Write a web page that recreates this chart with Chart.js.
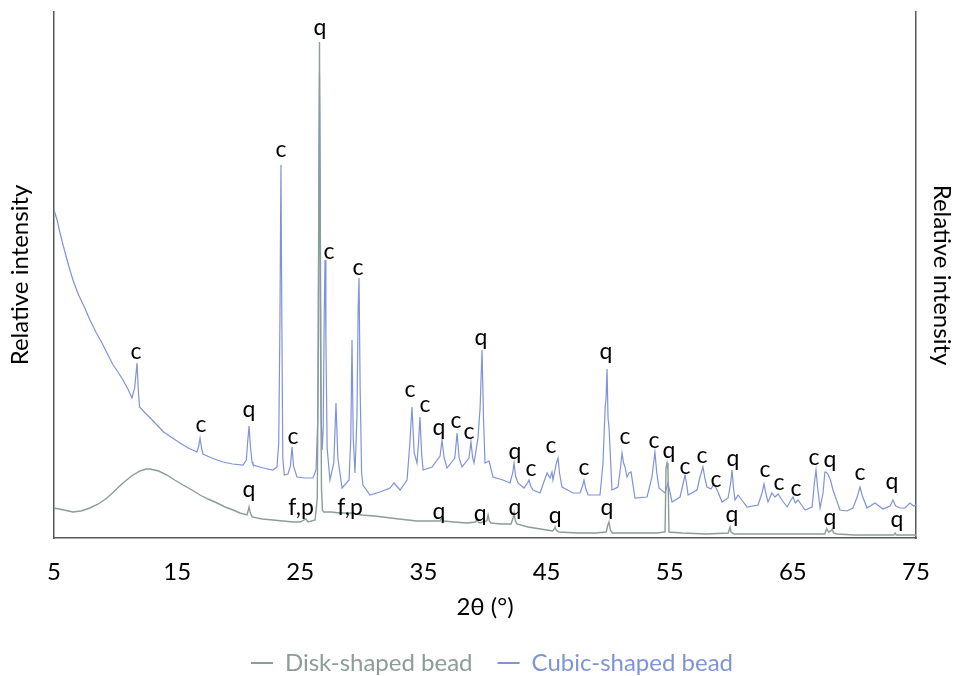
<!DOCTYPE html>
<html>
<head>
<meta charset="utf-8">
<script src="https://cdn.jsdelivr.net/npm/chart.js@4/dist/chart.umd.min.js"></script>
<style>
  html, body { margin: 0; padding: 0; background: #fff; overflow: hidden; }
</style>
</head>
<body>
<canvas id="xrd" width="956" height="685"></canvas>
<script>
// 2θ (°) and relative intensity of the disk-shaped bead pattern
const diskTheta = [5.00,5.80,6.54,7.20,7.92,8.60,9.30,10.00,10.60,11.30,11.98,12.50,12.80,13.50,14.18,14.80,15.48,16.20,16.86,17.50,18.24,18.90,19.54,20.10,20.67,20.78,20.84,20.92,21.08,21.90,22.78,23.60,24.41,25.00,25.46,25.63,26.20,26.38,26.47,26.56,26.64,26.72,26.80,26.90,27.50,28.20,29.04,30.00,31.00,31.72,33.00,34.48,35.50,36.35,36.51,36.67,37.50,38.54,39.25,39.35,39.45,39.60,40.15,40.25,40.35,40.49,41.30,42.11,42.28,42.36,42.45,42.60,43.50,44.50,45.50,45.62,45.69,45.77,46.00,47.50,49.00,49.85,49.95,50.07,50.18,50.35,52.00,54.00,54.62,54.70,54.78,54.86,54.94,56.00,58.00,59.75,59.85,59.90,59.98,60.20,62.00,64.00,66.00,67.60,67.70,67.77,67.90,68.10,68.20,68.30,68.60,70.00,71.00,73.20,73.30,73.40,75.00];
const diskIntensity = [30,28,26,27,30,34,40,48,55,62,67,69,69,67,63,58,53,48,43,39,35,31,28,25,23,28,31,26,21,19,18,17,16,16,19,16,18,40,200,496,200,50,28,26,26,25,25,23,22,21,19,17,17,17,21,17,16,15,16,20,16,15,17,23,17,15,14,14,20,25,18,14,11,9,7,9,11,8,6,5,5,6,12,16,8,5,5,5,6,70,75,68,6,5,4,5,9,11,6,4,4,4,4,4,8,9,6,7,9,5,4,3,3,3,5,3,3];

// 2θ (°) and relative intensity of the cubic-shaped bead pattern
const cubicTheta = [5.00,5.25,5.49,5.80,6.20,6.54,7.00,7.50,7.92,8.40,8.90,9.30,9.80,10.20,10.60,11.00,11.33,11.55,11.74,11.86,11.95,12.40,12.90,13.36,13.90,14.50,15.23,15.90,16.61,16.75,16.86,16.98,17.10,17.80,18.72,19.50,20.35,20.62,20.72,20.84,20.95,21.08,21.16,22.00,22.78,23.11,23.25,23.35,23.43,23.50,23.58,23.70,24.00,24.20,24.33,24.45,24.73,25.40,26.03,26.28,26.42,26.50,26.56,26.62,26.70,26.78,26.86,26.95,27.01,27.08,27.18,27.41,27.72,27.90,28.05,28.39,28.96,29.10,29.20,29.30,29.44,29.60,29.70,29.77,29.86,29.98,30.09,30.66,31.47,32.29,32.61,33.10,33.67,33.90,34.07,34.25,34.48,34.60,34.72,34.85,34.97,35.70,36.35,36.51,36.68,36.92,37.55,37.73,37.90,38.13,38.70,38.86,39.00,39.11,39.43,39.60,39.76,39.88,40.00,40.33,40.65,41.46,42.03,42.25,42.36,42.48,42.68,43.17,43.45,43.57,43.70,43.90,44.47,45.04,45.28,45.44,45.52,45.80,45.93,46.05,46.25,47.15,47.72,47.92,48.04,48.17,48.37,49.34,49.58,49.76,49.83,49.91,49.99,50.07,50.31,50.80,51.00,51.13,51.25,51.37,51.53,51.70,51.86,52.18,53.16,53.56,53.80,53.95,54.13,54.62,54.86,55.19,55.84,56.10,56.24,56.36,56.49,57.22,57.46,57.70,57.85,58.03,58.35,58.60,58.92,59.25,59.74,59.95,60.06,60.18,60.30,60.55,61.28,62.17,62.50,62.66,62.80,62.98,63.30,63.55,63.80,64.12,64.53,64.85,65.01,65.20,65.42,65.99,66.56,66.75,66.88,67.00,67.21,67.45,67.60,67.69,67.85,68.05,68.26,68.83,69.40,69.88,70.25,70.45,70.65,71.02,71.67,72.32,72.90,73.13,73.35,73.70,74.10,74.51,74.80,75.00];
const cubicIntensity = [328,318,305,290,272,258,243,230,218,206,195,185,173,166,158,149,140,150,175,145,131,125,119,113,106,101,95,90,86,92,100,90,84,80,76,74,73,78,95,112,92,76,73,70,68,71,95,220,373,220,80,63,64,72,91,72,61,60,60,68,120,350,465,350,120,88,110,230,278,200,90,58,75,135,80,50,58,100,198,100,65,120,230,260,150,65,53,43,46,50,55,48,58,95,131,85,75,95,121,85,68,71,82,98,80,70,80,105,80,71,80,96,80,75,100,130,188,120,75,77,61,58,55,65,75,62,55,50,55,58,52,48,45,65,60,66,58,75,80,65,51,45,45,52,58,50,43,43,75,131,140,169,120,111,48,51,70,85,75,71,61,65,66,40,41,61,86,65,50,45,55,36,41,55,63,55,43,48,61,71,60,51,49,54,46,36,40,55,68,50,38,43,31,33,45,54,45,36,45,41,44,38,31,38,41,35,38,28,31,55,68,52,30,45,66,66,64,58,48,28,27,30,42,51,42,30,35,29,32,38,32,30,30,35,32,33];

// Phase labels (c = calcite, q = quartz, f,p = feldspar/plagioclase)
const labelTheta = [11.66,16.94,20.84,24.41,23.43,26.60,27.33,29.69,33.91,35.13,36.26,37.65,38.70,39.68,42.44,43.74,45.36,48.04,49.83,51.37,53.72,54.94,56.24,57.62,58.76,60.14,62.74,63.88,65.26,66.72,68.02,70.45,73.05,
                    20.84,25.06,29.04,36.26,39.60,42.44,45.69,49.91,60.06,68.02,73.46];
const labelIntensity = [186,113,128,101,388,510,286,270,148,133,110,117,106,200,86,69,92,70,186,101,97,87,71,82,58,79,68,55,49,80,78,65,56,
                        48,30,30,26,24,30,22,30,23,20,18];
const labelText = ['c','c','q','c','c','q','c','c','c','c','q','c','c','q','q','c','c','c','q','c','c','q','c','c','c','q','c','c','c','c','q','c','q',
                   'q','f,p','f,p','q','q','q','q','q','q','q','q'];

const seriesNames = ['Disk-shaped bead', 'Cubic-shaped bead'];
const seriesColors = ['#8b9d95', '#7f93d8'];

const toPoints = (xs, ys) => xs.map((v, i) => ({ x: v, y: ys[i] }));

// Writes the phase letters above their peaks, positioned through the chart scales
const peakLabels = {
  id: 'peakLabels',
  afterDatasetsDraw(chart) {
    const { ctx, scales: { x, y } } = chart;
    ctx.save();
    ctx.font = '23px Lato, sans-serif';
    ctx.fillStyle = '#000';
    ctx.textAlign = 'center';
    ctx.textBaseline = 'middle';
    labelTheta.forEach((t, i) => {
      ctx.fillText(labelText[i], x.getPixelForValue(t), y.getPixelForValue(labelIntensity[i]));
    });
    ctx.restore();
  }
};

const axisColor = '#595959';
const tickFont = { family: 'Lato, sans-serif', size: 24 };
const titleFont = { family: 'Lato, sans-serif', size: 24 };

new Chart(document.getElementById('xrd'), {
  type: 'line',
  data: {
    datasets: [
      { label: seriesNames[0], data: toPoints(diskTheta, diskIntensity), borderColor: seriesColors[0], borderWidth: 1.4, pointRadius: 0, tension: 0, fill: false },
      { label: seriesNames[1], data: toPoints(cubicTheta, cubicIntensity), borderColor: seriesColors[1], borderWidth: 1.2, pointRadius: 0, tension: 0, fill: false }
    ]
  },
  options: {
    responsive: false,
    animation: false,
    layout: { padding: { top: 12, left: 28, right: 0, bottom: 0 } },
    plugins: {
      tooltip: { enabled: false },
      legend: {
        position: 'bottom',
        labels: {
          boxWidth: 22,
          boxHeight: 2,
          padding: 25,
          font: tickFont,
          generateLabels: (chart) => chart.data.datasets.map((ds, i) => ({
            text: ds.label,
            fillStyle: ds.borderColor,
            strokeStyle: ds.borderColor,
            lineWidth: 0,
            fontColor: ds.borderColor,
            hidden: false,
            datasetIndex: i
          }))
        }
      }
    },
    scales: {
      x: {
        type: 'linear',
        min: 5,
        max: 75,
        ticks: { stepSize: 10, color: '#000', font: tickFont, padding: 19.6, maxRotation: 0 },
        grid: { display: false, drawTicks: false },
        border: { display: true, color: axisColor, width: 1.5 },
        title: { display: true, text: '2θ (°)', color: '#000', font: tickFont, padding: { top: -13.4, bottom: 4.6 } }
      },
      y: {
        position: 'left',
        min: 0,
        max: 526,
        ticks: { display: false },
        grid: { display: false, drawTicks: false },
        border: { display: true, color: axisColor, width: 1.5 },
        title: { display: true, text: 'Relative intensity', color: '#000', font: titleFont, padding: { top: -22.4, bottom: 19.6 } }
      },
      y2: {
        position: 'right',
        min: 0,
        max: 526,
        ticks: { display: false },
        grid: { display: false, drawTicks: false },
        border: { display: true, color: axisColor, width: 1.5 },
        title: { display: true, text: 'Relative intensity', color: '#000', font: titleFont, padding: { top: -0.4, bottom: 11.6 } }
      }
    }
  },
  plugins: [peakLabels]
});
</script>
</body>
</html>
